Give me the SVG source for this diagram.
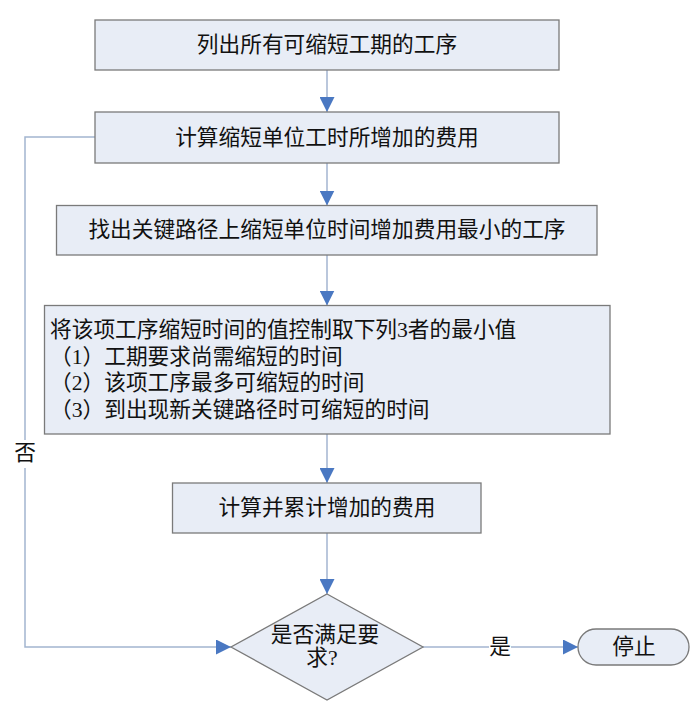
<svg xmlns="http://www.w3.org/2000/svg" width="691" height="713" viewBox="0 0 691 713">
<style>
text{font-family:"Liberation Serif","Noto Sans CJK SC",serif;font-size:21.7px;fill:#111;dominant-baseline:central}
.c{text-anchor:middle}
.box{fill:#E8EDF6;stroke:#7a7a7a;stroke-width:1.3}
.ln{fill:none;stroke:#A3B5D0;stroke-width:1.5}
.lbl{fill:#fff}
</style>
<defs>
<marker id="ah" markerUnits="userSpaceOnUse" markerWidth="15" markerHeight="15" refX="15" refY="7.5" orient="auto" viewBox="0 0 15 15">
<path d="M0,0 L15,7.5 L0,15 z" fill="#4A78C2"/>
</marker>
</defs>
<rect width="691" height="713" fill="#fff"/>
<g id="connectors">
<line class="ln" x1="327" y1="70" x2="327" y2="112" marker-end="url(#ah)"/>
<line class="ln" x1="327" y1="163" x2="327" y2="205.5" marker-end="url(#ah)"/>
<line class="ln" x1="327" y1="255" x2="327" y2="305.5" marker-end="url(#ah)"/>
<line class="ln" x1="327" y1="434" x2="327" y2="483" marker-end="url(#ah)"/>
<line class="ln" x1="327" y1="533" x2="327" y2="594" marker-end="url(#ah)"/>
<polyline class="ln" points="95,137 25,137 25,647 231,647" marker-end="url(#ah)"/>
<line class="ln" x1="423" y1="647" x2="578" y2="647" marker-end="url(#ah)"/>
<rect class="lbl" x="14" y="440" width="22" height="28"/>
<text class="c" x="25" y="453">否</text>
<rect class="lbl" x="489" y="634" width="22" height="26"/>
<text class="c" x="500" y="647">是</text>
</g>
<g id="n1"><rect class="box" x="95" y="20" width="464" height="50"/><text class="c" x="327" y="45">列出所有可缩短工期的工序</text></g>
<g id="n2"><rect class="box" x="95" y="112" width="464" height="51"/><text class="c" x="327" y="137.5">计算缩短单位工时所增加的费用</text></g>
<g id="n3"><rect class="box" x="56.5" y="205.5" width="540.5" height="49.5"/><text class="c" x="327" y="230">找出关键路径上缩短单位时间增加费用最小的工序</text></g>
<g id="n4"><rect class="box" x="44.5" y="305.5" width="565.5" height="128.5"/>
<text x="50" y="330">将该项工序缩短时间的值控制取下列3者的最小值</text>
<text x="50" y="356.5">（1）工期要求尚需缩短的时间</text>
<text x="50" y="383">（2）该项工序最多可缩短的时间</text>
<text x="50" y="409.5">（3）到出现新关键路径时可缩短的时间</text>
</g>
<g id="n5"><rect class="box" x="172.5" y="483" width="308.5" height="50"/><text class="c" x="327" y="508">计算并累计增加的费用</text></g>
<g id="n6"><polygon class="box" points="327,594 423,647 327,700 231,647"/>
<text class="c" x="325" y="635">是否满足要</text>
<text class="c" x="322" y="658">求?</text></g>
<g id="n7"><rect class="box" x="578" y="629" width="111" height="36" rx="18" ry="18"/><text class="c" x="634" y="647">停止</text></g>
</svg>
